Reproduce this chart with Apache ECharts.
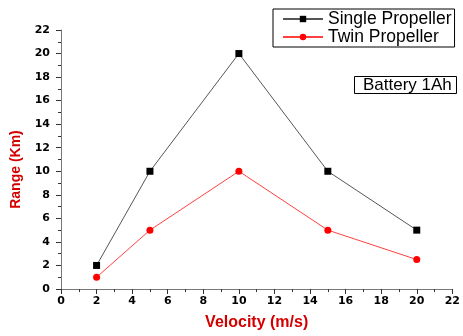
<!DOCTYPE html>
<html>
<head>
<meta charset="utf-8">
<script src="https://cdn.jsdelivr.net/npm/echarts@6/dist/echarts.min.js"></script>
<style>
  html, body { margin: 0; padding: 0; background: #fff; }
  #chart { width: 463px; height: 336px; }
</style>
</head>
<body>
<div id="chart"></div>
<script>
// velocity (m/s) and range (km)
var velocity = [2, 5, 10, 15, 20]
var singleRange = [2, 10, 20, 10, 5]
var twinRange = [1, 5, 10, 5, 2.5]
var seriesNames = ['Single Propeller', 'Twin Propeller']

function pairs(xs, ys) {
  return xs.map(function (x, i) { return [x, ys[i]] })
}

var chart = echarts.init(document.getElementById('chart'))
var tickFont = { color: '#000', fontWeight: 'bold', fontSize: 11, fontFamily: 'DejaVu Sans' }
var arial = 'Arial, Liberation Sans'

chart.setOption({
  animation: false,
  grid: { left: 61, right: 4, top: 30, bottom: 46 },
  title: {
    text: 'Battery 1Ah',
    left: 354,
    top: 76,
    padding: [1, 5, 0, 9],
    borderColor: '#000',
    borderWidth: 1,
    textStyle: { fontSize: 17, fontWeight: 'normal', color: '#000', fontFamily: arial, lineHeight: 17 }
  },
  legend: {
    orient: 'vertical',
    left: 273,
    top: 9,
    width: 184,
    padding: [1, 3, 1, 9],
    itemGap: 0,
    itemWidth: 40,
    itemHeight: 8,
    borderColor: '#000',
    borderWidth: 1,
    textStyle: { fontSize: 17.5, color: '#000', fontFamily: arial, lineHeight: 16 },
    data: seriesNames
  },
  xAxis: {
    type: 'value',
    min: 0,
    max: 22,
    interval: 2,
    name: 'Velocity (m/s)',
    nameLocation: 'middle',
    nameGap: 26,
    nameTextStyle: { color: '#d40000', fontWeight: 'bold', fontSize: 16, fontFamily: arial },
    splitLine: { show: false },
    axisLine: { lineStyle: { color: '#777', width: 1 } },
    axisTick: { inside: false, length: 5, lineStyle: { color: '#333' } },
    minorTick: { show: true, splitNumber: 2, length: 3, lineStyle: { color: '#333' } },
    axisLabel: Object.assign({ margin: 7 }, tickFont)
  },
  yAxis: {
    type: 'value',
    min: 0,
    max: 22,
    interval: 2,
    name: 'Range (Km)',
    nameLocation: 'middle',
    nameGap: 38,
    nameTextStyle: { color: '#d40000', fontWeight: 'bold', fontSize: 14, fontFamily: arial, padding: [0, 20, 0, 0] },
    splitLine: { show: false },
    axisLine: { show: true, lineStyle: { color: '#777', width: 1 } },
    axisTick: { show: true, inside: false, length: 5, lineStyle: { color: '#333' } },
    minorTick: { show: true, splitNumber: 2, length: 3, lineStyle: { color: '#333' } },
    axisLabel: Object.assign({ margin: 11 }, tickFont)
  },
  series: [
    {
      name: seriesNames[0],
      type: 'line',
      data: pairs(velocity, singleRange),
      symbol: 'rect',
      symbolSize: 7,
      itemStyle: { color: '#000' },
      lineStyle: { color: '#555', width: 1 }
    },
    {
      name: seriesNames[1],
      type: 'line',
      data: pairs(velocity, twinRange),
      symbol: 'circle',
      symbolSize: 7,
      itemStyle: { color: '#ff0000' },
      lineStyle: { color: '#ff4040', width: 1 }
    }
  ]
})
</script>
</body>
</html>
